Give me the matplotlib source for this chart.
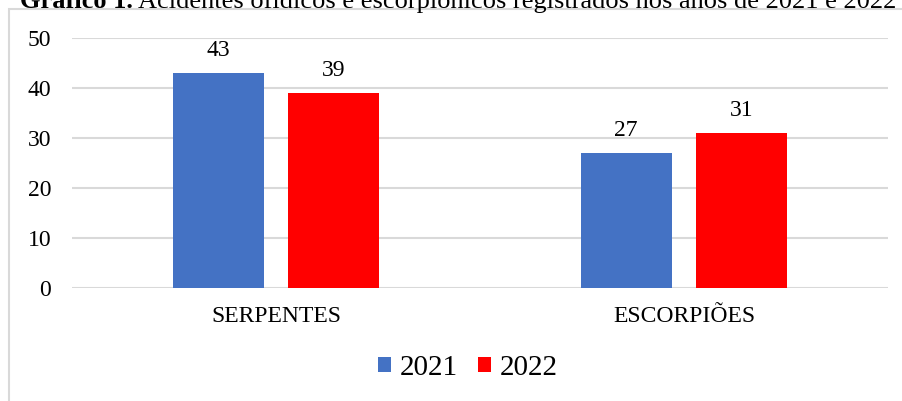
import matplotlib.pyplot as plt
import numpy as np
from matplotlib.patches import Rectangle

plt.rcParams['font.family'] = ['Liberation Serif', 'DejaVu Serif']

categorias = ['SERPENTES', 'ESCORPIÕES']
anos = ['2021', '2022']
valores_2021 = [43, 27]
valores_2022 = [39, 31]
cores = ['#4472C4', '#FF0000']

W, H = 902, 401
fig = plt.figure(figsize=(W / 100, H / 100), dpi=100)

# moldura do gráfico (bordas superior e esquerda visíveis)
fig.patches.append(Rectangle((9 / W, -0.1), 1.2, 1 - 9 / H + 0.1,
                             transform=fig.transFigure, fill=False,
                             edgecolor='#D9D9D9', linewidth=1.5))

# título (parte negrito + restante logo em seguida)
t1 = fig.text(20 / W, 1 - 8 / H, 'Gráfico 1.', fontsize=19, fontweight='bold',
              ha='left', va='baseline')
fig.canvas.draw()
bb = t1.get_window_extent()
fig.text((bb.x1 + 5) / W, 1 - 8 / H,
         'Acidentes ofídicos e escorpiônicos registrados nos anos de 2021 e 2022',
         fontsize=19, ha='left', va='baseline')

ax = fig.add_axes([72 / W, 1 - 288 / H, (888 - 72) / W, (288 - 38) / H])

x = np.arange(len(categorias))
largura = 0.223
desloc = 0.142
b1 = ax.bar(x - desloc, valores_2021, largura, color=cores[0], label=anos[0], zorder=3)
b2 = ax.bar(x + desloc, valores_2022, largura, color=cores[1], label=anos[1], zorder=3)

for barras in (b1, b2):
    for r in barras:
        ax.text(r.get_x() + r.get_width() / 2, r.get_height() + 2.4,
                f'{r.get_height():.0f}', ha='center', va='bottom', fontsize=17)

ax.set_xlim(-0.5, 1.5)
ax.set_ylim(0, 50)
ax.set_yticks(range(0, 51, 10))
ax.set_xticks(x)
ax.set_xticklabels(categorias)
ax.grid(axis='y', color='#D9D9D9', linewidth=1.5, zorder=0)
for s in ax.spines.values():
    s.set_visible(False)
ax.tick_params(axis='both', length=0, labelsize=17)
ax.tick_params(axis='y', pad=15)
ax.tick_params(axis='x', pad=13)

fig.legend(loc='center', bbox_to_anchor=(468 / W, 1 - 368 / H), ncol=2,
           frameon=False, fontsize=21, handlelength=0.45, handleheight=0.45,
           handletextpad=0.3, columnspacing=0.7)

fig.savefig('out.png', dpi=100)
